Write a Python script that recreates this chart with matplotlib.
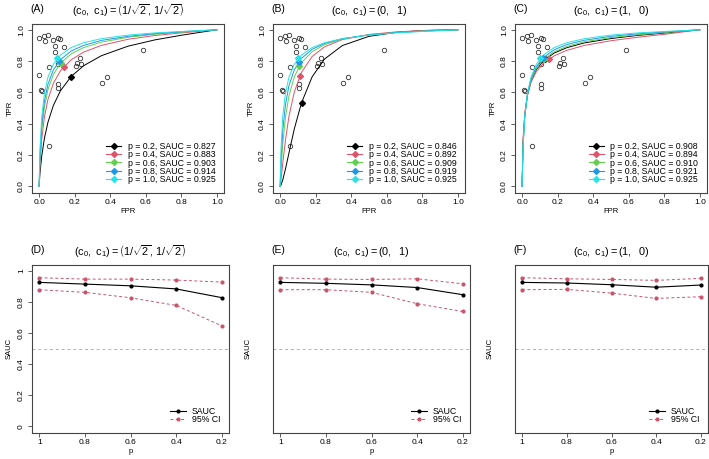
import matplotlib.pyplot as plt
from matplotlib.lines import Line2D

plt.rcParams['font.family'] = ['Liberation Sans', 'DejaVu Sans']
plt.rcParams['mathtext.fontset'] = 'custom'
plt.rcParams['mathtext.rm'] = 'Liberation Sans'
plt.rcParams['mathtext.it'] = 'Liberation Sans:italic'

# study-level points (FPR, TPR)
study_fpr = [0.0, 0.025, 0.050, 0.034, 0.078, 0.108, 0.117, 0.141, 0.089, 0.089,
             0.054, 0.104, 0.0, 0.013, 0.019, 0.108, 0.108, 0.205, 0.212, 0.230,
             0.237, 0.355, 0.380, 0.587, 0.056]
study_tpr = [0.947, 0.959, 0.966, 0.928, 0.934, 0.947, 0.942, 0.887, 0.894, 0.856,
             0.762, 0.780, 0.710, 0.616, 0.611, 0.655, 0.629, 0.766, 0.789, 0.817,
             0.784, 0.662, 0.696, 0.871, 0.260]

fpr_grid = [0, 0.005, 0.015, 0.03, 0.05, 0.08, 0.12, 0.18, 0.25, 0.35, 0.5, 0.65, 0.8, 1.0]
cyan_curve = [0, .239, .446, .595, .698, .780, .838, .886, .917, .943, .966, .980, .989, 1]
tpr_a = [
    [0, .086, .195, .307, .410, .516, .610, .701, .770, .834, .895, .935, .965, 1],
    [0, .145, .304, .443, .556, .657, .738, .808, .857, .900, .939, .963, .980, 1],
    [0, .181, .362, .508, .619, .714, .785, .846, .886, .921, .952, .971, .985, 1],
    [0, .204, .396, .545, .653, .743, .809, .864, .900, .932, .958, .975, .987, 1],
    cyan_curve,
]
tpr_b = [
    [0, .008, .041, .109, .214, .367, .532, .699, .813, .899, .958, .983, .995, 1],
    [0, .041, .147, .294, .448, .603, .727, .829, .891, .937, .970, .986, .995, 1],
    [0, .105, .272, .441, .579, .700, .789, .860, .905, .941, .968, .983, .992, 1],
    [0, .163, .357, .522, .644, .744, .817, .875, .913, .943, .967, .982, .991, 1],
    cyan_curve,
]
tpr_c = [
    [0, .273, .455, .582, .671, .746, .802, .851, .885, .916, .944, .964, .979, 1],
    [0, .300, .469, .583, .664, .732, .786, .833, .868, .900, .930, .952, .971, 1],
    [0, .264, .451, .583, .676, .752, .810, .859, .893, .923, .950, .968, .982, 1],
    [0, .249, .446, .587, .685, .764, .823, .872, .905, .933, .958, .974, .986, 1],
    cyan_curve,
]

# summary operating points
op_fpr_a = [0.177, 0.138, 0.122, 0.112, 0.103]
op_tpr_a = [0.700, 0.762, 0.788, 0.798, 0.818]
op_fpr_b = [0.121, 0.111, 0.107, 0.105, 0.103]
op_tpr_b = [0.532, 0.705, 0.766, 0.795, 0.818]
op_fpr_c = [0.130, 0.151, 0.125, 0.115, 0.103]
op_tpr_c = [0.812, 0.813, 0.815, 0.817, 0.818]

p_labels = ['0.2', '0.4', '0.6', '0.8', '1.0']
sauc_legend_a = ['0.827', '0.883', '0.903', '0.914', '0.925']
sauc_legend_b = ['0.846', '0.892', '0.909', '0.919', '0.925']
sauc_legend_c = ['0.908', '0.894', '0.910', '0.921', '0.925']

# SAUC vs p
p_vals = [1, 0.8, 0.6, 0.4, 0.2]
p_ticklabels = ['1', '0.8', '0.6', '0.4', '0.2']
sauc_d = [0.925, 0.914, 0.903, 0.883, 0.827]
lo_d = [0.878, 0.861, 0.826, 0.777, 0.646]
hi_d = [0.955, 0.946, 0.946, 0.940, 0.927]
sauc_e = [0.925, 0.919, 0.909, 0.892, 0.846]
lo_e = [0.878, 0.878, 0.861, 0.788, 0.738]
hi_e = [0.955, 0.946, 0.944, 0.948, 0.916]
sauc_f = [0.925, 0.921, 0.910, 0.894, 0.908]
lo_f = [0.878, 0.880, 0.856, 0.822, 0.833]
hi_f = [0.955, 0.948, 0.944, 0.938, 0.951]

colors = ['black', '#DF536B', '#61D04F', '#2297E6', '#28E2E5']
ci_color = '#C8546E'

t_diag = r'$(\mathrm{c}_0,\ \mathrm{c}_1) = \left(1/\sqrt{2},\, 1/\sqrt{2}\right)$'
t_01 = r'$(\mathrm{c}_0,\ \mathrm{c}_1) = \left(0,\ \ 1\right)$'
t_10 = r'$(\mathrm{c}_0,\ \mathrm{c}_1) = \left(1,\ \ 0\right)$'

W, H = 709, 459
fig = plt.figure(figsize=(W / 100, H / 100), dpi=100)


def box(l, r, t, b):
    return [l / W, 1 - b / H, (r - l) / W, (b - t) / H]


def style(ax):
    for s in ax.spines.values():
        s.set_linewidth(0.8)
        s.set_color('#444444')
    ax.tick_params(direction='out', length=3, width=0.6, labelsize=6, pad=2,
                   color='#444444')


def legend(ax, handles):
    ax.legend(handles=handles, loc='lower right', frameon=False, fontsize=6.3,
              handlelength=1.8, handletextpad=0.7, labelspacing=-0.1,
              borderaxespad=0.6)


def titles(ax, letter, title):
    ax.text(0.5, 1.035, title, transform=ax.transAxes, fontsize=7.8,
            ha='center', va='bottom')
    ax.text(-0.01, 1.07, letter, transform=ax.transAxes, fontsize=7.5)


def roc_panel(rect, letter, title, curves, op_fpr, op_tpr, saucs):
    ax = fig.add_axes(rect)
    style(ax)
    ax.plot(study_fpr, study_tpr, 'o', mfc='none', mec='#333333', ms=3.2, mew=0.6,
            zorder=2)
    handles = []
    for i in range(5):
        ax.plot(fpr_grid, curves[i], color=colors[i], lw=0.7, zorder=3)
        ax.plot(op_fpr[i], op_tpr[i], 'D', color=colors[i], ms=3.0, zorder=4)
        handles.append(Line2D([], [], color=colors[i], lw=0.8, marker='D', ms=3.0,
                              label='p = %s, SAUC = %s' % (p_labels[i], saucs[i])))
    ax.set_xlim(-0.04, 1.04)
    ax.set_ylim(-0.04, 1.04)
    ticks = [0, 0.2, 0.4, 0.6, 0.8, 1.0]
    ax.set_xticks(ticks)
    ax.set_xticklabels(['%.1f' % t for t in ticks])
    ax.set_yticks(ticks)
    ax.set_yticklabels(['%.1f' % t for t in ticks], rotation=90, va='center')
    ax.set_xlabel('FPR', fontsize=5.5, labelpad=1)
    ax.set_ylabel('TPR', fontsize=5.5, labelpad=3)
    legend(ax, handles)
    titles(ax, letter, title)
    return ax


def sauc_panel(rect, letter, title, sauc, lo, hi, yticks_on):
    ax = fig.add_axes(rect)
    style(ax)
    ax.axhline(0.5, color='#C9A9AE', lw=0.7, ls=(0, (3, 3)))
    ax.plot(p_vals, hi, color=ci_color, lw=0.7, ls=(0, (3, 2.5)), marker='o', ms=2)
    ax.plot(p_vals, lo, color=ci_color, lw=0.7, ls=(0, (3, 2.5)), marker='o', ms=2)
    ax.plot(p_vals, sauc, color='black', lw=0.8, marker='o', ms=2)
    ax.set_xlim(1.032, 0.168)
    ax.set_ylim(-0.04, 1.04)
    ax.set_xticks(p_vals)
    ax.set_xticklabels(p_ticklabels)
    if yticks_on:
        yt = [0, 0.2, 0.4, 0.6, 0.8, 1]
        ax.set_yticks(yt)
        ax.set_yticklabels(['0', '0.2', '0.4', '0.6', '0.8', '1'], rotation=90,
                           va='center')
        ax.set_ylabel('SAUC', fontsize=5.5, labelpad=4)
    else:
        ax.set_yticks([])
        ax.set_ylabel('SAUC', fontsize=5.5, labelpad=15)
    ax.set_xlabel('p', fontsize=5.5, labelpad=1)
    handles = [Line2D([], [], color='black', lw=0.8, marker='o', ms=2, label='SAUC'),
               Line2D([], [], color=ci_color, lw=0.7, ls=(0, (3, 2.5)), marker='o',
                      ms=2, label='95% CI')]
    legend(ax, handles)
    titles(ax, letter, title)
    return ax


roc_panel(box(32, 224, 23.5, 192.5), '(A)', t_diag, tpr_a, op_fpr_a, op_tpr_a, sauc_legend_a)
roc_panel(box(273, 465, 23.5, 192.5), '(B)', t_01, tpr_b, op_fpr_b, op_tpr_b, sauc_legend_b)
roc_panel(box(515, 707, 23.5, 192.5), '(C)', t_10, tpr_c, op_fpr_c, op_tpr_c, sauc_legend_c)

sauc_panel(box(32, 229, 264.5, 432.5), '(D)', t_diag, sauc_d, lo_d, hi_d, True)
sauc_panel(box(273, 470, 264.5, 432.5), '(E)', t_01, sauc_e, lo_e, hi_e, False)
sauc_panel(box(515, 708, 264.5, 432.5), '(F)', t_10, sauc_f, lo_f, hi_f, False)

fig.savefig('out.png', dpi=100)
